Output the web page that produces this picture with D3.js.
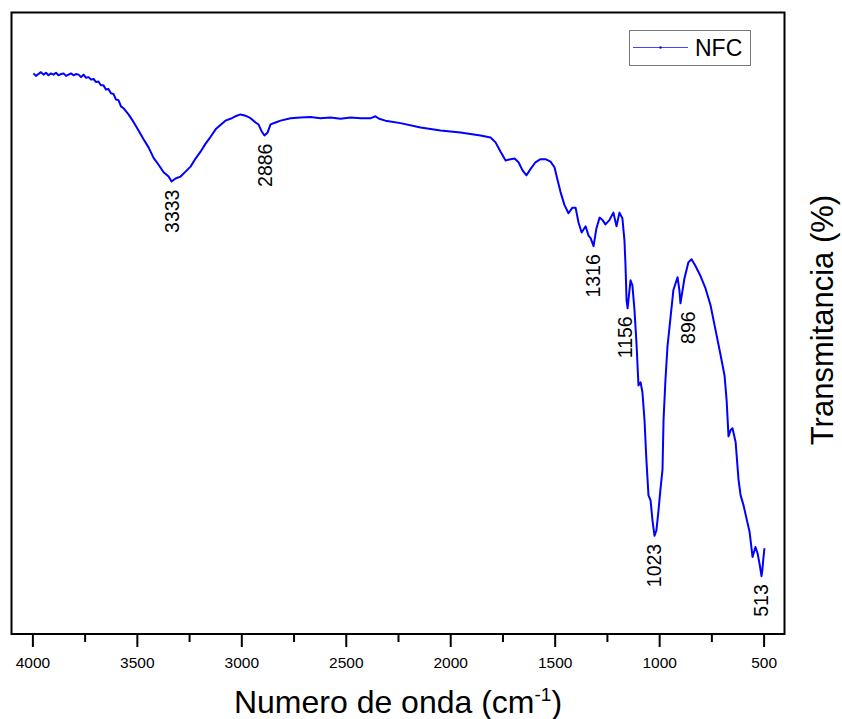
<!DOCTYPE html>
<html>
<head>
    <meta charset="utf-8">
    <title>FTIR NFC</title>
    <script src="https://d3js.org/d3.v7.min.js"></script>
    <style>
        body, html { margin: 0; padding: 0; background: #fff; }
        svg { display: block; }
        text { font-family: Arial, "Liberation Sans", sans-serif; fill: #000; }
    </style>
</head>
<body>
<svg width="842" height="719"></svg>
<script>
// wavenumber (cm-1) and transmittance (arbitrary %)
const wavenumber = [3995, 3983, 3971, 3959, 3947, 3935, 3923, 3911, 3899, 3887, 3875, 3863, 3851, 3839,
    3827, 3815, 3803, 3791, 3779, 3767, 3755, 3743, 3731, 3719, 3707, 3695, 3684, 3672,
    3660, 3648, 3636, 3624, 3612, 3600, 3588, 3576, 3564, 3540, 3516, 3492, 3468, 3444, 3420, 3396, 3372, 3348, 3334, 3315,
    3291, 3267, 3243, 3219, 3195, 3171, 3147, 3123, 3100, 3076, 3052, 3028, 3004, 2980, 2956, 2932,
    2918, 2903, 2889, 2874, 2860, 2836, 2812, 2764, 2717, 2669, 2621, 2573, 2525, 2477, 2429, 2380, 2358, 2340, 2310, 2238, 2142,
    2046, 1951, 1855, 1807, 1783, 1759, 1735, 1711, 1692, 1673, 1654, 1635, 1616, 1592, 1568, 1544,
    1520, 1501, 1486, 1472, 1453, 1434, 1415, 1400, 1386, 1371, 1352, 1338, 1328, 1314, 1300, 1285,
    1271, 1257, 1238, 1219, 1204, 1190, 1176, 1166, 1161, 1156, 1151, 1147, 1137, 1128, 1118, 1108,
    1099, 1089, 1080, 1070, 1061, 1051, 1041, 1032, 1022, 1013, 1003, 994, 984, 979, 970, 960, 946,
    932, 912, 903, 898, 888, 879, 860, 845, 826, 802, 778, 754, 730, 706, 687, 677, 668, 658, 649,
    634, 620, 610, 596, 582, 567, 553, 539, 529, 520, 510, 506, 501, 496];
const transmittance = [90.2, 89.8, 90.1, 90.4, 90.0, 90.3, 89.9, 90.2, 90.0, 90.3, 89.9, 90.1, 90.2, 89.8,
    90.0, 90.2, 89.9, 90.1, 90.0, 89.6, 90.0, 89.5, 89.6, 89.2, 89.3, 88.8, 88.9, 88.3,
    88.3, 87.6, 87.7, 87.0, 86.9, 86.0, 85.9, 84.9, 84.6, 83.6, 82.4, 81.0, 79.6, 78.3, 76.6, 75.5, 74.3, 73.6, 72.8, 73.3,
    73.6, 74.4, 75.2, 76.5, 77.6, 78.9, 80.0, 81.2, 81.9, 82.6, 82.9, 83.3, 83.6, 83.4, 83.0, 82.3,
    82.0, 80.9, 80.2, 80.7, 82.0, 82.3, 82.6, 83.0, 83.1, 83.2, 83.0, 83.1, 82.9, 83.1, 83.0, 83.0, 83.3, 82.9, 82.6, 82.2, 81.5,
    81.0, 80.7, 80.2, 79.9, 79.1, 77.6, 76.2, 76.4, 76.5, 75.9, 74.6, 73.8, 74.8, 75.9, 76.4, 76.4,
    76.0, 75.1, 73.0, 71.1, 69.0, 67.7, 68.6, 68.6, 66.2, 64.6, 65.6, 64.1, 63.7, 62.4, 65.3, 67.0,
    66.6, 65.9, 66.6, 67.8, 65.6, 67.8, 66.9, 63.3, 59.3, 53.7, 52.4, 53.7, 56.9, 56.1, 52.1, 46.5,
    40.0, 40.5, 38.9, 34.4, 28.0, 22.3, 21.5, 18.3, 15.8, 16.7, 19.9, 23.2, 26.4, 34.4, 40.8, 46.3, 50.8,
    55.3, 57.4, 55.3, 53.2, 55.3, 57.2, 59.8, 60.3, 59.2, 57.6, 55.6, 52.9, 48.9, 44.9, 41.6, 37.6, 31.8, 32.8, 33.1,
    30.9, 24.8, 22.3, 20.7, 18.6, 16.4, 12.4, 14.0, 13.0, 11.4, 9.3, 10.3, 12.2, 13.8];

const peakLabels = [3333, 2886, 1316, 1156, 1023, 896, 513];
const majorTicks = [4000, 3500, 3000, 2500, 2000, 1500, 1000, 500];
const minorTicks = [3750, 3250, 2750, 2250, 1750, 1250, 750];
const seriesName = "NFC";

const svg = d3.select("svg");
const plot = { left: 11.5, right: 784.5, top: 12.5, bottom: 634 };

const x = d3.scaleLinear().domain([4100, 400]).range([plot.left, plot.right]);
const y = d3.scaleLinear().domain([0, 100]).range([plot.bottom, plot.top]);

const points = wavenumber.map((w, i) => ({ w, t: transmittance[i] }));

// spectrum
svg.append("path")
    .datum(points)
    .attr("fill", "none")
    .attr("stroke", "#0000ff")
    .attr("stroke-width", 2)
    .attr("stroke-linejoin", "round")
    .attr("d", d3.line().x(d => x(d.w)).y(d => y(d.t)));

// frame
svg.append("rect")
    .attr("x", plot.left).attr("y", plot.top)
    .attr("width", plot.right - plot.left).attr("height", plot.bottom - plot.top)
    .attr("fill", "none").attr("stroke", "#000").attr("stroke-width", 2);

// bottom axis: major ticks with labels, minor ticks without
const axisG = svg.append("g")
    .attr("transform", `translate(0,${plot.bottom})`)
    .call(d3.axisBottom(x).tickValues(majorTicks).tickSize(13).tickPadding(10).tickFormat(d3.format("d")));
axisG.select(".domain").remove();
axisG.selectAll(".tick line").attr("stroke-width", 2);
axisG.selectAll(".tick text").style("font-size", "15.5px").style("font-family", "Arial, 'Liberation Sans', sans-serif");

const minorG = svg.append("g")
    .attr("transform", `translate(0,${plot.bottom})`)
    .call(d3.axisBottom(x).tickValues(minorTicks).tickSize(8).tickFormat(""));
minorG.select(".domain").remove();
minorG.selectAll(".tick line").attr("stroke-width", 2);

// peak annotations
const nudge = { 896: 7, 1156: -2 };
peakLabels.forEach(p => {
    const near = points.filter(d => Math.abs(d.w - p) <= 8);
    const tMin = d3.min(near, d => d.t);
    const px = x(p) + (nudge[p] || 0);
    const py = y(tMin) + 8;
    svg.append("text")
        .attr("transform", `translate(${px},${py}) rotate(-90)`)
        .attr("text-anchor", "end")
        .attr("dy", "0.36em")
        .style("font-size", "19.5px")
        .text(p);
});

// axis titles
const xt = svg.append("text")
    .attr("x", (plot.left + plot.right) / 2)
    .attr("y", 713)
    .attr("text-anchor", "middle")
    .style("font-size", "32px");
xt.append("tspan").text("Numero de onda (cm");
xt.append("tspan").attr("dy", -12).style("font-size", "19px").text("-1");
xt.append("tspan").attr("dy", 12).text(")");

svg.append("text")
    .attr("transform", `translate(833,320) rotate(-90)`)
    .attr("text-anchor", "middle")
    .style("font-size", "31px")
    .text("Transmitancia (%)");

// legend
const lg = svg.append("g");
lg.append("rect")
    .attr("x", 629.5).attr("y", 30.5).attr("width", 121).attr("height", 35)
    .attr("fill", "#fff").attr("stroke", "#777").attr("stroke-width", 1);
lg.append("line")
    .attr("x1", 633).attr("x2", 688).attr("y1", 47.5).attr("y2", 47.5)
    .attr("stroke", "#4444ff").attr("stroke-width", 1);
lg.append("circle").attr("cx", 660.5).attr("cy", 47.5).attr("r", 1.2).attr("fill", "#0000ff");
lg.append("text")
    .attr("x", 695).attr("y", 56)
    .style("font-size", "23px")
    .text(seriesName);
</script>
</body>
</html>
